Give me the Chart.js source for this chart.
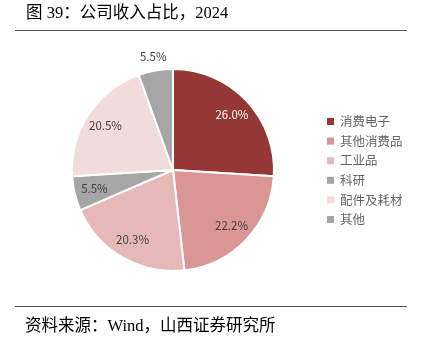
<!DOCTYPE html>
<html>
<head>
<meta charset="utf-8">
<script src="https://cdn.jsdelivr.net/npm/chart.js@4.4.1/dist/chart.umd.min.js"></script>
<style>
  html, body { margin: 0; padding: 0; background: #ffffff; }
  #wrap { position: relative; width: 422px; height: 346px; }
</style>
</head>
<body>
<div id="wrap"><canvas id="c" width="422" height="346"></canvas></div>
<script>
// Revenue split by business line, 2024 (%)
const categories = ['消费电子', '其他消费品', '工业品', '科研', '配件及耗材', '其他'];
const shares = [26.0, 22.2, 20.3, 5.5, 20.5, 5.5];
const sliceColors = ['#953735', '#D99694', '#E6B9B8', '#A6A6A6', '#F2DCDB', '#A6A6A6'];
const labelColors = ['#FFFFFF', '#404040', '#404040', '#404040', '#404040', '#404040'];

const titleText = '图 39：公司收入占比，2024';
const sourceText = '资料来源：Wind，山西证券研究所';

const SERIF = '"Liberation Serif", "Noto Sans CJK SC", serif';
const SANS = '"Noto Sans CJK SC", "Noto Sans", sans-serif';

// Title, rules, source line and legend drawn around the pie
const framePlugin = {
  id: 'frame',
  afterDraw(chart) {
    const ctx = chart.ctx;
    ctx.save();
    ctx.fillStyle = '#000000';
    ctx.textBaseline = 'middle';
    ctx.textAlign = 'left';
    ctx.font = '16.5px ' + SERIF;
    ctx.fillText(titleText, 26, 14);
    ctx.font = '16.5px ' + SERIF;
    ctx.fillText(sourceText, 25, 327);

    ctx.strokeStyle = '#555555';
    ctx.lineWidth = 1;
    ctx.beginPath();
    ctx.moveTo(15, 30.5); ctx.lineTo(407, 30.5);
    ctx.moveTo(15, 306.5); ctx.lineTo(407, 306.5);
    ctx.stroke();

    // legend
    const ds = chart.data.datasets[0];
    ctx.font = '12.5px ' + SANS;
    chart.data.labels.forEach((lab, i) => {
      const y = 121 + i * 19.6;
      ctx.fillStyle = ds.backgroundColor[i];
      ctx.fillRect(327, y - 3, 7, 7);
      ctx.fillStyle = '#666666';
      ctx.fillText(lab, 340, y + 0.5);
    });
    ctx.restore();
  }
};

// Percentage labels placed along each slice's middle angle
const sliceLabelPlugin = {
  id: 'sliceLabels',
  afterDatasetsDraw(chart) {
    const ctx = chart.ctx;
    const meta = chart.getDatasetMeta(0);
    const ds = chart.data.datasets[0];
    ctx.save();
    ctx.font = '11.5px ' + SANS;
    ctx.textAlign = 'center';
    ctx.textBaseline = 'middle';
    meta.data.forEach((arc, i) => {
      const p = arc.getProps(['x', 'y', 'startAngle', 'endAngle', 'outerRadius'], true);
      const mid = (p.startAngle + p.endAngle) / 2;
      const inside = i !== ds.data.length - 1;
      const r = p.outerRadius * (inside ? 0.8 : 1.14);
      ctx.fillStyle = inside ? labelColors[i] : '#404040';
      ctx.fillText(ds.data[i].toFixed(1) + '%', p.x + Math.cos(mid) * r, p.y + Math.sin(mid) * r);
    });
    ctx.restore();
  }
};

new Chart(document.getElementById('c'), {
  type: 'pie',
  data: {
    labels: categories,
    datasets: [{
      data: shares,
      backgroundColor: sliceColors,
      borderColor: '#FFFFFF',
      borderWidth: 2
    }]
  },
  options: {
    responsive: false,
    animation: false,
    layout: { padding: { left: 71, right: 147, top: 68, bottom: 74 } },
    plugins: {
      legend: { display: false },
      tooltip: { enabled: false }
    }
  },
  plugins: [framePlugin, sliceLabelPlugin]
});
</script>
</body>
</html>
